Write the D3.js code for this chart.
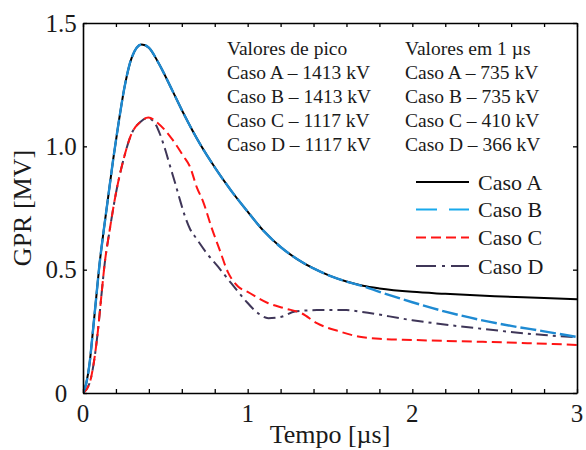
<!DOCTYPE html>
<html>
<head>
<meta charset="utf-8">
<script src="https://cdn.jsdelivr.net/npm/d3@7"></script>
<style>
  html, body { margin: 0; padding: 0; background: #fff; }
  svg { display: block; }
</style>
</head>
<body>
<svg id="chart" width="586" height="450" font-family="'Liberation Serif', 'DejaVu Serif', serif"></svg>
<script>
// ---- data (time in µs, GPR in MV) ----
const tA = [0, 0.02, 0.04, 0.06, 0.08, 0.10, 0.126, 0.15, 0.184, 0.215, 0.255, 0.296, 0.356, 0.40, 0.457, 0.54, 0.61, 0.71, 0.8, 0.9, 1.0, 1.1, 1.2, 1.3, 1.4, 1.5, 1.6, 1.7, 1.8, 2.0, 2.2, 2.5, 2.8, 3.0];
const vA = [0, 0.04, 0.12, 0.25, 0.385, 0.52, 0.66, 0.78, 0.95, 1.09, 1.25, 1.36, 1.413, 1.40, 1.34, 1.23, 1.134, 1.01, 0.915, 0.82, 0.735, 0.655, 0.592, 0.543, 0.505, 0.475, 0.452, 0.435, 0.424, 0.41, 0.402, 0.392, 0.385, 0.38];

const tB = [0, 0.02, 0.04, 0.06, 0.08, 0.10, 0.126, 0.15, 0.184, 0.215, 0.255, 0.296, 0.356, 0.40, 0.457, 0.54, 0.61, 0.71, 0.8, 0.9, 1.0, 1.1, 1.2, 1.3, 1.4, 1.5, 1.6, 1.7, 1.8, 2.0, 2.2, 2.4, 2.6, 2.8, 3.0];
const vB = [0, 0.04, 0.12, 0.25, 0.385, 0.52, 0.66, 0.78, 0.95, 1.09, 1.25, 1.36, 1.413, 1.40, 1.34, 1.23, 1.134, 1.01, 0.915, 0.82, 0.735, 0.655, 0.592, 0.543, 0.505, 0.475, 0.452, 0.433, 0.41, 0.368, 0.33, 0.298, 0.272, 0.25, 0.227];

const tC = [0, 0.04, 0.071, 0.091, 0.111, 0.132, 0.162, 0.20, 0.245, 0.296, 0.35, 0.397, 0.457, 0.54, 0.61, 0.65, 0.69, 0.73, 0.78, 0.83, 0.88, 0.943, 1.0, 1.125, 1.226, 1.328, 1.42, 1.56, 1.68, 1.8, 2.0, 2.4, 2.7, 3.0];
const vC = [0, 0.04, 0.147, 0.255, 0.39, 0.526, 0.66, 0.81, 0.944, 1.053, 1.10, 1.117, 1.093, 1.03, 0.96, 0.917, 0.836, 0.775, 0.672, 0.58, 0.49, 0.431, 0.41, 0.364, 0.343, 0.323, 0.283, 0.249, 0.228, 0.22, 0.215, 0.208, 0.202, 0.195];

const tD = [0, 0.04, 0.071, 0.091, 0.111, 0.132, 0.162, 0.20, 0.245, 0.296, 0.35, 0.39, 0.43, 0.467, 0.50, 0.53, 0.56, 0.59, 0.62, 0.65, 0.69, 0.75, 0.82, 0.90, 0.984, 1.064, 1.125, 1.206, 1.287, 1.42, 1.6, 1.68, 2.0, 2.4, 2.8, 3.0];
const vD = [0, 0.04, 0.147, 0.255, 0.39, 0.526, 0.66, 0.81, 0.944, 1.053, 1.10, 1.115, 1.10, 1.05, 0.985, 0.917, 0.85, 0.78, 0.715, 0.665, 0.625, 0.568, 0.512, 0.445, 0.377, 0.323, 0.303, 0.309, 0.33, 0.336, 0.336, 0.33, 0.295, 0.262, 0.235, 0.226];

const seriesNames = ["Caso A", "Caso B", "Caso C", "Caso D"];
const xTicks = [0, 1, 2, 3];
const xMinorTicks = [0, 0.2, 0.4, 0.6, 0.8, 1, 1.2, 1.4, 1.6, 1.8, 2, 2.2, 2.4, 2.6, 2.8, 3];
const yTicks = [0, 0.5, 1.0, 1.5];
const yTickLabels = ["0", "0.5", "1.0", "1.5"];
const peakTitle = "Valores de pico";
const peakLines = ["Caso A – 1413 kV", "Caso B – 1413 kV", "Caso C – 1117 kV", "Caso D – 1117 kV"];
const oneUsTitle = "Valores em 1 µs";
const oneUsLines = ["Caso A – 735 kV", "Caso B – 735 kV", "Caso C – 410 kV", "Caso D – 366 kV"];

// ---- layout ----
const FONT = "'Liberation Serif', 'DejaVu Serif', serif";
const TEXT = "#1a1a1a";
const svg = d3.select("#chart");
const L = 83, R = 577, T = 23, B = 393;
const x = d3.scaleLinear().domain([0, 3]).range([L, R]);
const y = d3.scaleLinear().domain([0, 1.5]).range([B, T]);

const styles = [
  { color: "#000000", width: 2, dash: null, legendColor: "#000000", legendDash: null },
  { color: "#1e8ad2", width: 2.4, dash: "16,4", legendColor: "#19a9ec", legendDash: "21,12" },
  { color: "#ff1414", width: 2, dash: "10,5", legendColor: "#ff1414", legendDash: "10,5" },
  { color: "#3f3658", width: 2, dash: "12,5,3,5", legendColor: "#3f3658", legendDash: "20,6,3,6" }
];

svg.append("defs").append("clipPath").attr("id", "plotclip")
  .append("rect").attr("x", L).attr("y", T - 2).attr("width", R - L).attr("height", B - T + 2);

const line = d3.line().x(d => x(d[0])).y(d => y(d[1])).curve(d3.curveMonotoneX);
const data = [
  d3.zip(tA, vA), d3.zip(tB, vB), d3.zip(tC, vC), d3.zip(tD, vD)
];

const g = svg.append("g").attr("clip-path", "url(#plotclip)");
[3, 2, 0, 1].forEach(i => {
  const s = styles[i];
  g.append("path")
    .attr("d", line(data[i]))
    .attr("fill", "none")
    .attr("stroke", s.color)
    .attr("stroke-width", s.width)
    .attr("stroke-dasharray", s.dash)
    .attr("stroke-linejoin", "round");
});

// ---- axes frame ----
const xAxisB = d3.axisBottom(x).tickValues(xMinorTicks).tickSizeInner(-4).tickSizeOuter(0).tickFormat("");
const xAxisT = d3.axisTop(x).tickValues(xMinorTicks).tickSizeInner(-4).tickSizeOuter(0).tickFormat("");
const yAxisL = d3.axisLeft(y).tickValues(yTicks).tickSizeInner(-4).tickSizeOuter(0).tickFormat("");
const yAxisR = d3.axisRight(y).tickValues(yTicks).tickSizeInner(-4).tickSizeOuter(0).tickFormat("");
[[xAxisB, `translate(0,${B})`], [xAxisT, `translate(0,${T})`], [yAxisL, `translate(${L},0)`], [yAxisR, `translate(${R},0)`]]
  .forEach(([ax, tr]) => {
    const a = svg.append("g").attr("transform", tr).call(ax);
    a.selectAll("path.domain").attr("stroke", "#000").attr("stroke-width", 1.6);
    a.selectAll(".tick line").attr("stroke", "#000").attr("stroke-width", 1.3);
  });

function txt(sel) { return sel.attr("font-family", FONT).attr("fill", TEXT); }

// tick labels
svg.append("g").selectAll("text").data(xTicks).join("text")
  .call(txt)
  .attr("x", d => x(d)).attr("y", 422)
  .attr("text-anchor", "middle").attr("font-size", 25)
  .text(d => d);
svg.append("g").selectAll("text").data(yTicks).join("text")
  .call(txt)
  .attr("x", 61).attr("y", d => y(d))
  .attr("dy", "0.34em")
  .attr("text-anchor", "middle").attr("font-size", 25)
  .text((d, i) => yTickLabels[i]);

// axis titles
svg.append("text").call(txt).attr("x", (L + R) / 2).attr("y", 443)
  .attr("text-anchor", "middle").attr("font-size", 26).text("Tempo [µs]");
svg.append("text").call(txt).attr("transform", `translate(31,${(T + B) / 2}) rotate(-90)`)
  .attr("text-anchor", "middle").attr("font-size", 26).text("GPR [MV]");

// ---- info text block ----
const info = svg.append("g");
info.append("text").call(txt).attr("font-size", 19.5).attr("x", 227).attr("y", 55).text(peakTitle);
peakLines.forEach((t, i) => info.append("text").call(txt).attr("font-size", 19.5).attr("x", 227).attr("y", 79 + 24 * i).text(t));
info.append("text").call(txt).attr("font-size", 19.5).attr("x", 405).attr("y", 55).text(oneUsTitle);
oneUsLines.forEach((t, i) => info.append("text").call(txt).attr("font-size", 19.5).attr("x", 405).attr("y", 79 + 24 * i).text(t));

// ---- legend ----
const legY = [182, 209.5, 237.5, 266];
const leg = svg.append("g");
seriesNames.forEach((name, i) => {
  const s = styles[i];
  leg.append("line").attr("x1", 416).attr("x2", 469).attr("y1", legY[i]).attr("y2", legY[i])
    .attr("stroke", s.legendColor).attr("stroke-width", 2.2).attr("stroke-dasharray", s.legendDash);
  leg.append("text").call(txt).attr("x", 478).attr("y", legY[i] + 7.5).attr("font-size", 22).text(name);
});
</script>
</body>
</html>
